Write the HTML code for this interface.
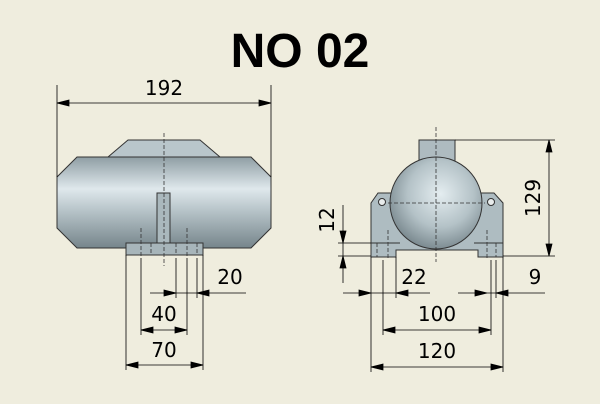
<!DOCTYPE html>
<html><head><style>
html,body{margin:0;padding:0;background:#efedde;}
svg{display:block}
text{font-family:"DejaVu Sans","Liberation Sans",sans-serif;fill:#000}
</style></head><body>
<svg width="600" height="404" viewBox="0 0 600 404" xmlns="http://www.w3.org/2000/svg">
<defs>
<linearGradient id="cyl" x1="0" y1="0" x2="0" y2="1">
<stop offset="0" stop-color="#8f9ea4"/><stop offset="0.35" stop-color="#dfe8ec"/><stop offset="0.6" stop-color="#b5c2c7"/><stop offset="1" stop-color="#76858b"/>
</linearGradient>
<radialGradient id="sph" cx="0.55" cy="0.4" r="0.6">
<stop offset="0" stop-color="#e4edf0"/><stop offset="0.6" stop-color="#b4c2c7"/><stop offset="1" stop-color="#7d8c92"/>
</radialGradient>
</defs>
<rect width="600" height="404" fill="#efedde"/>
<text x="300" y="67" font-size="48" font-weight="bold" text-anchor="middle" style="font-family:'Liberation Sans',sans-serif">NO 02</text>

<!-- LEFT VIEW -->
<g stroke="#333" stroke-width="1">
<path d="M108,157 L128,140 L200,140 L220,157 Z" fill="#b9c6cb"/>
<path d="M77,157 L251,157 L271,177 L271,228 L251,248 L77,248 L57,228 L57,177 Z" fill="url(#cyl)"/>
<rect x="157" y="193" width="13" height="50" fill="#aab8bd"/>
<rect x="126" y="243" width="77" height="12" fill="#a7b5ba"/>
</g>
<g stroke="#333" stroke-width="0.8" stroke-dasharray="4,2" fill="none">
<line x1="164" y1="133" x2="164" y2="266"/>
<line x1="141" y1="228" x2="141" y2="258"/>
<line x1="187" y1="228" x2="187" y2="258"/>
<line x1="151" y1="243" x2="151" y2="255"/>
<line x1="176" y1="243" x2="176" y2="255"/>
<line x1="197" y1="243" x2="197" y2="255"/>
</g>
<g stroke="#000" stroke-width="0.8" fill="none">
<line x1="57" y1="85" x2="57" y2="177"/><line x1="271" y1="85" x2="271" y2="177"/>
<line x1="57" y1="103" x2="271" y2="103"/>
<path d="M57,103 l12,-3 v6 z M271,103 l-12,-3 v6 z" fill="#000"/>
<line x1="176" y1="258" x2="176" y2="298"/><line x1="197" y1="258" x2="197" y2="298"/>
<line x1="150" y1="293" x2="246" y2="293"/>
<path d="M176,293 l-12,-3 v6 z M197,293 l12,-3 v6 z" fill="#000"/>
<line x1="141" y1="258" x2="141" y2="335"/><line x1="187" y1="258" x2="187" y2="335"/>
<line x1="141" y1="330" x2="187" y2="330"/>
<path d="M141,330 l12,-3 v6 z M187,330 l-12,-3 v6 z" fill="#000"/>
<line x1="126" y1="255" x2="126" y2="370"/><line x1="203" y1="255" x2="203" y2="370"/>
<line x1="126" y1="365" x2="203" y2="365"/>
<path d="M126,365 l12,-3 v6 z M203,365 l-12,-3 v6 z" fill="#000"/>
</g>
<g font-size="20" text-anchor="middle">
<text x="164" y="95">192</text>
<text x="230" y="284">20</text>
<text x="164" y="321">40</text>
<text x="164" y="357">70</text>
</g>

<!-- RIGHT VIEW -->
<g stroke="#333" stroke-width="1">
<rect x="419" y="140" width="36" height="22" fill="#aebbc0"/>
<path d="M378,193 L494,193 L503,203 L503,257 L478,257 L478,250 L396,250 L396,257 L371,257 L371,203 Z" fill="#aebcc1"/>
<circle cx="436" cy="203" r="46" fill="url(#sph)"/>
<circle cx="382" cy="202" r="3.5" fill="#e8ecec"/>
<circle cx="491" cy="202" r="3.5" fill="#e8ecec"/>
<line x1="371" y1="243" x2="400" y2="243"/><line x1="474" y1="243" x2="503" y2="243"/>
</g>
<g stroke="#333" stroke-width="0.8" stroke-dasharray="4,2" fill="none">
<line x1="436" y1="127" x2="436" y2="262"/>
<line x1="388" y1="203" x2="485" y2="203"/>
<line x1="377" y1="243" x2="377" y2="257"/><line x1="388" y1="230" x2="388" y2="260"/>
<line x1="487" y1="230" x2="487" y2="260"/><line x1="496" y1="243" x2="496" y2="257"/>
</g>
<g stroke="#000" stroke-width="0.8" fill="none">
<line x1="455" y1="140" x2="555" y2="140"/><line x1="503" y1="256" x2="555" y2="256"/>
<line x1="549" y1="140" x2="549" y2="256"/>
<path d="M549,140 l-3,12 h6 z M549,256 l-3,-12 h6 z" fill="#000"/>
<line x1="338" y1="243" x2="371" y2="243"/><line x1="338" y1="256" x2="371" y2="256"/>
<line x1="343" y1="205" x2="343" y2="283"/>
<path d="M343,243 l-3,-12 h6 z M343,256 l-3,12 h6 z" fill="#000"/>
<line x1="371" y1="257" x2="371" y2="372"/><line x1="503" y1="257" x2="503" y2="372"/>
<line x1="396" y1="257" x2="396" y2="298"/>
<line x1="383" y1="260" x2="383" y2="335"/><line x1="491" y1="260" x2="491" y2="335"/>
<line x1="496" y1="260" x2="496" y2="298"/>
<line x1="343" y1="293" x2="430" y2="293"/>
<path d="M371,293 l-12,-3 v6 z M396,293 l12,-3 v6 z" fill="#000"/>
<line x1="458" y1="293" x2="545" y2="293"/>
<path d="M487,293 l-12,-3 v6 z M496,293 l12,-3 v6 z" fill="#000"/>
<line x1="383" y1="330" x2="491" y2="330"/>
<path d="M383,330 l12,-3 v6 z M491,330 l-12,-3 v6 z" fill="#000"/>
<line x1="371" y1="367" x2="503" y2="367"/>
<path d="M371,367 l12,-3 v6 z M503,367 l-12,-3 v6 z" fill="#000"/>
</g>
<g font-size="20" text-anchor="middle">
<text x="414" y="284">22</text>
<text x="535" y="284">9</text>
<text x="437" y="321">100</text>
<text x="437" y="358">120</text>
<text transform="translate(540,198) rotate(-90)">129</text>
<text transform="translate(334,220) rotate(-90)">12</text>
</g>
</svg>
</body></html>
